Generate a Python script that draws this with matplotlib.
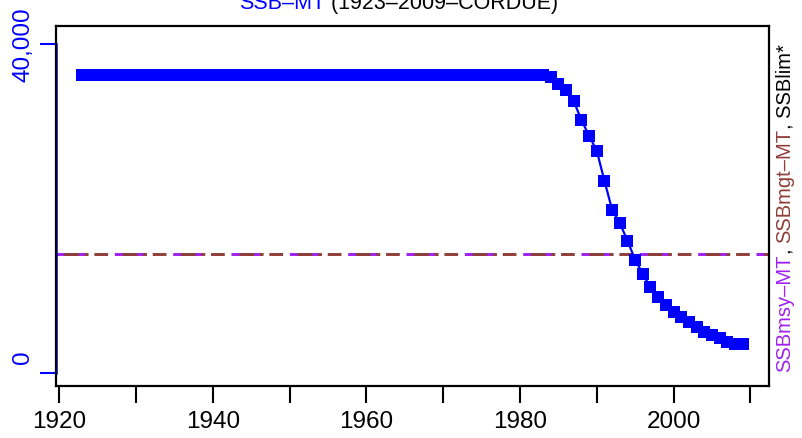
import matplotlib.pyplot as plt
import matplotlib.transforms as mtransforms

plt.rcParams['font.family'] = ['Liberation Sans', 'DejaVu Sans']

# SSB series
years = list(range(1923, 2010))
ssb_flat = [36230] * (1983 - 1923 + 1)
ssb_decline = [35950, 35140, 34450, 33070, 30760, 28850, 27030, 23380, 19855,
               18240, 16085, 13775, 12035, 10420, 9205, 8270, 7450, 6770,
               6160, 5555, 5020, 4620, 4220, 3805, 3560, 3560]
ssb = ssb_flat + ssb_decline

ssb_msy = 14470
ssb_mgt = 14470

ytick_vals = [0, 40000]
ytick_labels = ["0", "40,000"]
xtick_vals = list(range(1920, 2011, 10))
xtick_labels = [str(y) if y % 20 == 0 else "" for y in xtick_vals]

title_parts = [("SSB\u2013MT", 'blue'), (" (1923\u20132009\u2013CORDUE)", 'black')]
purple = '#A020F0'
brown = '#8E3E36'
right_parts = [("SSBmsy\u2013MT", purple), (", ", 'black'),
               ("SSBmgt\u2013MT", brown), (", SSBlim*", 'black')]

fig = plt.figure(figsize=(8.03, 4.39), dpi=100)
ax = fig.add_axes([56 / 803, 1 - 387 / 439, (769 - 56) / 803, (387 - 27) / 439])

xmin, xmax = 1919.56, 2012.44
ax.set_xlim(xmin, xmax)
ax.set_ylim(-1581, 42188)

# reference lines: purple dashed under brown dot-dash
ax.axhline(ssb_msy, color=purple, lw=2.1, ls=(0, (10, 10)))
ax.axhline(ssb_mgt, color=brown, lw=2.1, ls=(17.3, (5, 2, 1.3, 2, 4.7, 5)))

ax.plot(years, ssb, color='blue', lw=1.6, marker='s', markersize=8.5,
        markeredgewidth=0)

for s in ax.spines.values():
    s.set_linewidth(1.6)
    s.set_color('black')

# blue left axis segment
ax.plot([xmin, xmin], [0, 40000], color='blue', lw=1.8, clip_on=False)

ax.set_yticks(ytick_vals)
ax.set_yticklabels(ytick_labels, rotation=90, va='center')
ax.tick_params(axis='y', colors='blue', length=11.5, width=1.5, labelsize=17.5, pad=4)

ax.set_xticks(xtick_vals)
ax.set_xticklabels(xtick_labels)
ax.tick_params(axis='x', colors='black', length=12, width=1.5, labelsize=17.5, pad=5)

# the "0" label sits a bit above its tick in the original
lab0 = ax.get_yticklabels()[0]
lab0.set_transform(lab0.get_transform() +
                   mtransforms.ScaledTranslation(0, 17 / 100, fig.dpi_scale_trans))

# title in two colours (top clipped like the original)
prev = fig.text(239 / 803, 1 - 9 / 439, title_parts[0][0], color=title_parts[0][1],
                fontsize=15.5, ha='left', va='baseline')
for txt, col in title_parts[1:]:
    prev = ax.annotate(txt, xy=(1, 0), xycoords=prev, ha='left', va='bottom',
                       fontsize=15.5, color=col, annotation_clip=False)

# right side label in several colours
prev = fig.text(785 / 803, 1 - 372 / 439, right_parts[0][0], color=right_parts[0][1],
                fontsize=14.5, rotation=90, ha='center', va='bottom')
for txt, col in right_parts[1:]:
    prev = ax.annotate(txt, xy=(0.5, 1), xycoords=prev, ha='center', va='bottom',
                       rotation=90, fontsize=14.5, color=col,
                       annotation_clip=False)

fig.savefig('out.png', dpi=100)
